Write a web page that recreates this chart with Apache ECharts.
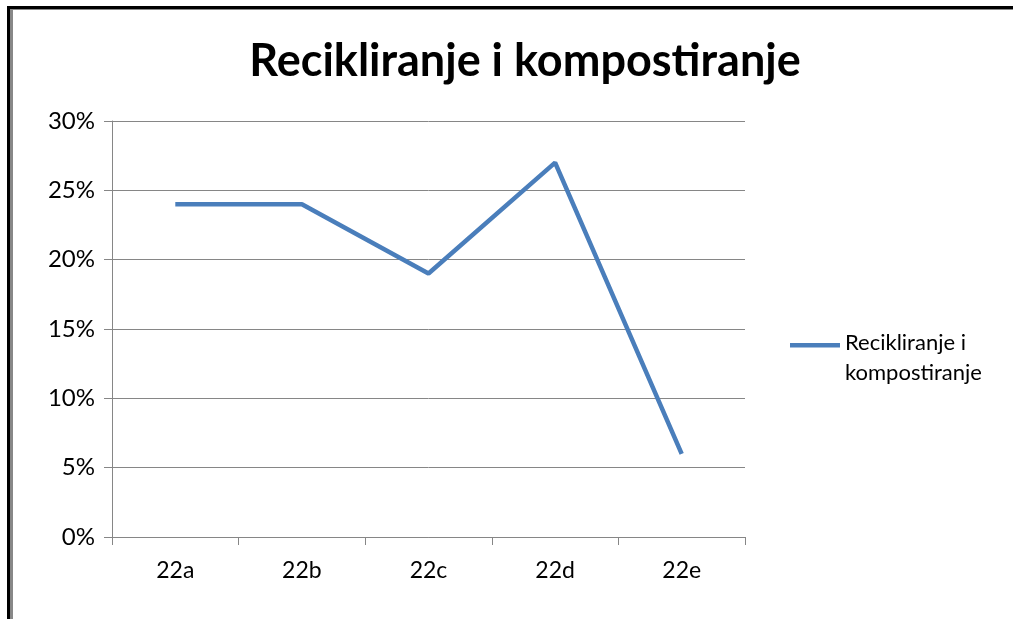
<!DOCTYPE html>
<html><head><meta charset="utf-8">
<script src="https://cdn.jsdelivr.net/npm/echarts@6/dist/echarts.min.js"></script>
<style>html,body{margin:0;padding:0;background:#fff}#c{width:1013px;height:619px}</style>
</head><body><div id="c"></div>
<script>
const categories = ['22a', '22b', '22c', '22d', '22e'];
const values = [24, 24, 19, 27, 6];
const seriesName = 'Recikliranje i kompostiranje';
const titleText = 'Recikliranje i kompostiranje';

const chart = echarts.init(document.getElementById('c'));
const font = 'Lato, "Open Sans", sans-serif';
chart.setOption({
  animation: false,
  backgroundColor: '#fff',
  title: {
    text: titleText, left: 520, top: 34, textAlign: 'center',
    textStyle: {fontFamily: font, fontWeight: 'bold', fontSize: 45, color: '#000'}
  },
  legend: {
    left: 785, top: 323, orient: 'vertical', itemWidth: 50, itemHeight: 60,
    itemGap: 8,
    icon: 'path://M0,15H50V19.5H0Z M0,0H0.05V0.05H0Z M0,59.95H0.05V60H0Z',
    formatter: n => 'Recikliranje i\nkompostiranje',
    textStyle: {fontFamily: font, fontSize: 22, color: '#000', lineHeight: 30}
  },
  grid: {left: 112, right: 268, top: 121, bottom: 82},
  xAxis: {
    type: 'category', data: categories, boundaryGap: true,
    axisLine: {lineStyle: {color: '#868686', width: 1}},
    axisTick: {show: true, length: 8, lineStyle: {color: '#868686'}},
    axisLabel: {fontFamily: font, fontSize: 23, color: '#000', margin: 22}
  },
  yAxis: {
    type: 'value', min: 0, max: 30, interval: 5,
    axisLine: {show: true, lineStyle: {color: '#868686', width: 1}},
    axisTick: {show: true, length: 8, lineStyle: {color: '#868686'}},
    splitLine: {lineStyle: {color: '#868686', width: 1}},
    axisLabel: {fontFamily: font, fontSize: 24, color: '#000', margin: 17, formatter: '{value}%'}
  },
  series: [{
    name: seriesName, type: 'line', data: values, symbol: 'none',
    lineStyle: {color: '#4a7ebb', width: 4.5}, itemStyle: {color: '#4a7ebb'}
  }],
  graphic: [
    {type: 'rect', shape: {x: 7, y: 6, width: 1006, height: 3}, style: {fill: '#000'}},
    {type: 'rect', shape: {x: 10, y: 9, width: 1003, height: 1}, style: {fill: '#888'}},
    {type: 'rect', shape: {x: 7, y: 6, width: 3, height: 613}, style: {fill: '#000'}},
    {type: 'rect', shape: {x: 10, y: 9, width: 3, height: 610}, style: {fill: '#888'}}
  ]
});
</script></body></html>
